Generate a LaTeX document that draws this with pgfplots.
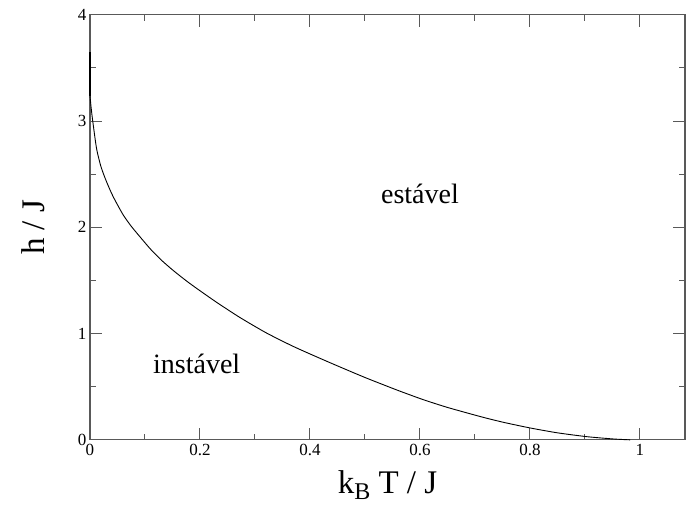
\documentclass[border=0pt]{standalone}
\usepackage{fontspec}
\setmainfont{Liberation Serif}
\usepackage{pgfplots}
\pgfplotsset{compat=1.18}
\begin{document}
\begin{tikzpicture}
\begin{axis}[
  width=595pt, height=425pt, scale only axis,
  xmin=0, xmax=1.082, ymin=0, ymax=4,
  xtick={0,0.2,0.4,0.6,0.8,1},
  ytick={0,1,2,3,4},
  minor x tick num=1, minor y tick num=1,
  tick align=inside,
  major tick length=12pt, minor tick length=6pt,
  axis line style={draw=black!65, line width=1.2pt},
  every tick/.style={black!65, line width=1pt},
  /pgf/number format/assume math mode=true,
  ticklabel style={font=\fontsize{17}{20}\selectfont},
  xticklabel style={yshift=-1pt},
  xlabel={k\raisebox{-0.4ex}{\fontsize{24}{28}\selectfont B} T / J},
  ylabel={h / J},
  label style={font=\fontsize{33}{38}\selectfont},
  xlabel shift=8pt,
  ylabel shift=26pt,
  clip=false,
]
\addplot[black, line width=0.9pt, smooth, tension=0.4] coordinates {
(0,3.24) (0.002,3.13) (0.005,3.0) (0.012,2.74) (0.02,2.57) (0.03,2.43)
(0.042,2.29) (0.06,2.12) (0.075,2.01) (0.091,1.91) (0.11,1.795) (0.13,1.69)
(0.152,1.591) (0.175,1.497) (0.194,1.425) (0.23,1.295) (0.273,1.15) (0.32,1.008)
(0.364,0.893) (0.394,0.822) (0.44,0.718) (0.485,0.619) (0.509,0.568) (0.56,0.465)
(0.606,0.378) (0.65,0.305) (0.709,0.22) (0.75,0.167) (0.8,0.112) (0.85,0.066)
(0.903,0.03) (0.952,0.008) (0.982,0.0)
};
\addplot[black, line width=1.8pt] coordinates {(0,3.24) (0,3.65)};
\node[font=\fontsize{28}{32}\selectfont] at (axis cs:0.6,2.315) {estável};
\node[font=\fontsize{28}{32}\selectfont] at (axis cs:0.194,0.711) {instável};
\path (axis cs:-0.1636,-0.842) rectangle (axis cs:1.0855,4.139);
\end{axis}
\end{tikzpicture}
\end{document}
